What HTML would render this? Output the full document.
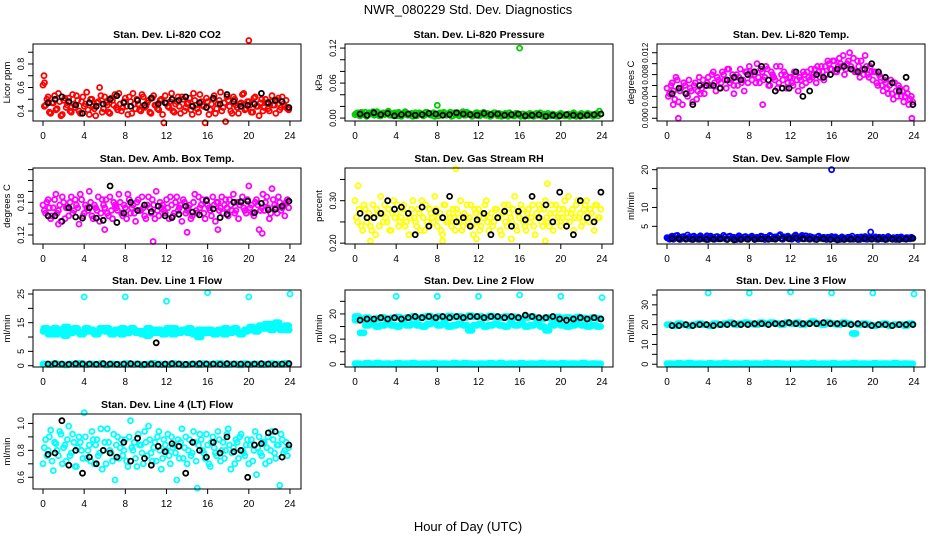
<!DOCTYPE html>
<html><head><meta charset="utf-8"><style>
body{margin:0;background:#fff;}
svg{display:block;font-family:"Liberation Sans",Arial,sans-serif;}
</style></head><body>
<svg id="chart" width="936" height="540" viewBox="0 0 936 540" xmlns="http://www.w3.org/2000/svg">
<rect x="0" y="0" width="936" height="540" fill="#fff"/>
<text x="468" y="14" text-anchor="middle" font-size="13">NWR_080229  Std. Dev. Diagnostics</text>
<text x="468" y="531" text-anchor="middle" font-size="13">Hour of Day (UTC)</text>
</svg>
<script>
const co2Red=[0.62,0.45,0.52,0.38,0.47,0.41,0.55,0.36,0.49,0.43,0.51,0.39,0.46,0.53,0.40,0.48,0.44,0.56,0.37,0.50,0.42,0.47,0.60,0.39,0.52,0.45,0.38,0.49,0.54,0.41,0.46,0.43,0.51,0.37,0.48,0.55,0.42,0.46,0.40,0.52,0.44,0.49,0.38,0.53,0.45,0.41,0.50,0.30,0.47,0.43,0.55,0.39,0.48,0.44,0.52,0.40,0.46,0.51,0.37,0.49,0.42,0.54,0.45,0.30,0.48,0.41,0.50,0.38,0.46,0.56,0.43,0.31,0.49,0.40,0.52,0.45,0.38,0.47,0.55,0.42,0.48,0.39,0.51,0.44,0.36,0.50,0.43,0.47,0.40,0.53,0.45,0.49,0.41,0.52,0.44,0.42];
const co2Red2=[0.44,0.50,0.39,0.47,0.53,0.42,0.48,0.37,0.51,0.45,0.40,0.54,0.43,0.49,0.38,0.52,0.46,0.41,0.50,0.44,0.36,0.48,0.53,0.42,0.47,0.39,0.51,0.45,0.43,0.55,0.40,0.48,0.44,0.52,0.38,0.46,0.50,0.41,0.54,0.43,0.47,0.39,0.51,0.45,0.42,0.49,0.37,0.53,0.44,0.48,0.40,0.46,0.52,0.38,0.50,0.43,0.47,0.41,0.55,0.45,0.39,0.48,0.44,0.51,0.37,0.46,0.53,0.42,0.49,0.40,0.47,0.52,0.44,0.38,0.50,0.43,0.46,0.54,0.41,0.48,0.45,0.39,0.52,0.44,0.47,0.40,0.50,0.42,0.48,0.45,0.38,0.51,0.43,0.46,0.49,0.41];
const co2Black=[0.47,0.50,0.52,0.48,0.45,0.38,0.47,0.44,0.46,0.50,0.53,0.47,0.44,0.49,0.45,0.51,0.46,0.47,0.50,0.49,0.52,0.44,0.47,0.43,0.51,0.46,0.54,0.48,0.44,0.45,0.46,0.55,0.47,0.49,0.48,0.43];
const co2OutX=[20,0.1,0.15];const co2OutY=[1.0,0.70,0.64];

const presGreen=[0.006,0.009,0.004,0.008,0.010,0.005,0.007,0.011,0.006,0.008,0.004,0.009,0.007,0.012,0.005,0.008,0.006,0.010,0.003,0.007,0.009,0.005,0.008,0.006,0.004,0.009,0.007,0.005,0.010,0.006,0.008,0.003,0.007,0.009,0.005,0.008,0.006,0.010,0.004,0.007,0.009,0.006,0.011,0.005,0.008,0.007,0.004,0.009,0.006,0.008,0.010,0.005,0.007,0.004,0.009,0.006,0.008,0.003,0.007,0.005,0.009,0.006,0.004,0.008,0.005,0.007,0.003,0.006,0.008,0.004,0.007,0.005,0.009,0.003,0.006,0.008,0.004,0.007,0.005,0.003,0.008,0.006,0.004,0.007,0.005,0.009,0.003,0.006,0.008,0.004,0.007,0.005,0.006,0.004,0.008,0.012];
const presGreen2=[0.008,0.005,0.010,0.006,0.003,0.009,0.007,0.005,0.011,0.004,0.008,0.006,0.010,0.005,0.007,0.009,0.004,0.008,0.006,0.011,0.005,0.007,0.003,0.009,0.006,0.008,0.004,0.010,0.007,0.005,0.009,0.006,0.004,0.008,0.010,0.005,0.007,0.003,0.009,0.006,0.004,0.008,0.005,0.010,0.007,0.003,0.006,0.009,0.004,0.007,0.005,0.008,0.003,0.006,0.009,0.004,0.007,0.005,0.008,0.003,0.006,0.004,0.008,0.005,0.003,0.007,0.005,0.004,0.006,0.003,0.008,0.005,0.004,0.007,0.003,0.005,0.006,0.004,0.003,0.007,0.005,0.004,0.006,0.003,0.007,0.004,0.005,0.003,0.006,0.004,0.008,0.005,0.003,0.006,0.004,0.007];
const presBlack=[0.007,0.005,0.009,0.006,0.008,0.004,0.006,0.007,0.005,0.006,0.008,0.007,0.005,0.006,0.009,0.007,0.006,0.005,0.008,0.006,0.007,0.005,0.006,0.007,0.004,0.005,0.006,0.003,0.005,0.004,0.006,0.005,0.004,0.005,0.006,0.007];
const presOutX=[16,8];const presOutY=[0.12,0.022];

const tempMag=[0.0055,0.0045,0.0065,0.0035,0.007,0.005,0.0025,0.006,0.004,0.0055,0.003,0.0065,0.005,0.0045,0.007,0.006,0.0075,0.006,0.0085,0.005,0.007,0.0065,0.008,0.0055,0.009,0.007,0.006,0.008,0.0075,0.0065,0.005,0.0085,0.0095,0.007,0.008,0.010,0.0065,0.0085,0.0075,0.009,0.006,0.008,0.007,0.0055,0.0095,0.007,0.008,0.0065,0.0075,0.006,0.008,0.005,0.007,0.0085,0.0065,0.0075,0.009,0.008,0.0065,0.0085,0.0095,0.007,0.008,0.010,0.009,0.0105,0.0085,0.011,0.0095,0.008,0.010,0.012,0.009,0.0085,0.0105,0.0075,0.009,0.0115,0.008,0.0095,0.007,0.0085,0.006,0.0075,0.005,0.0065,0.0045,0.007,0.0035,0.005,0.006,0.004,0.003,0.0055,0.0025,0.004];
const tempMag2=[0.004,0.006,0.005,0.0075,0.003,0.0055,0.0065,0.0045,0.007,0.005,0.006,0.0035,0.0075,0.0055,0.0045,0.0065,0.006,0.008,0.0065,0.0075,0.0055,0.0085,0.007,0.009,0.0065,0.008,0.0075,0.006,0.009,0.007,0.0085,0.0065,0.008,0.0085,0.0065,0.0075,0.009,0.007,0.0095,0.006,0.0085,0.0075,0.0095,0.0065,0.008,0.0085,0.0055,0.0075,0.0065,0.0085,0.007,0.0075,0.006,0.008,0.0085,0.007,0.0075,0.009,0.0095,0.0075,0.0085,0.0095,0.0105,0.009,0.0105,0.0085,0.0095,0.0100,0.0115,0.009,0.0105,0.0095,0.011,0.0085,0.0095,0.0105,0.008,0.0095,0.0075,0.0085,0.0085,0.0065,0.008,0.006,0.007,0.0055,0.006,0.0045,0.0065,0.004,0.0055,0.005,0.004,0.0045,0.0035,0.003];
const tempBlack=[0.0045,0.0055,0.0045,0.0025,0.006,0.006,0.006,0.0055,0.007,0.0075,0.007,0.008,0.0085,0.0095,0.007,0.005,0.0055,0.0055,0.0085,0.004,0.005,0.008,0.0075,0.008,0.009,0.0095,0.009,0.0085,0.009,0.010,0.0085,0.0075,0.0065,0.005,0.0075,0.0025];
const tempOutX=[1.1,23.8,0.6,9.3,6.5];const tempOutY=[0.0,0.0,0.0025,0.0025,0.0045];

const ambMag=[0.175,0.160,0.185,0.150,0.170,0.195,0.165,0.145,0.180,0.170,0.155,0.190,0.165,0.175,0.140,0.185,0.160,0.170,0.200,0.155,0.175,0.165,0.145,0.185,0.170,0.160,0.190,0.150,0.175,0.165,0.180,0.155,0.170,0.195,0.160,0.175,0.145,0.185,0.165,0.170,0.150,0.190,0.160,0.175,0.200,0.155,0.170,0.165,0.185,0.150,0.175,0.160,0.190,0.170,0.145,0.180,0.165,0.175,0.155,0.195,0.160,0.170,0.185,0.150,0.175,0.165,0.190,0.145,0.180,0.170,0.160,0.185,0.155,0.175,0.195,0.165,0.150,0.180,0.170,0.160,0.210,0.175,0.155,0.185,0.130,0.170,0.165,0.190,0.150,0.205,0.175,0.160,0.180,0.170,0.155,0.185];
const ambMag2=[0.165,0.180,0.170,0.155,0.185,0.160,0.175,0.190,0.150,0.170,0.180,0.160,0.185,0.170,0.195,0.155,0.175,0.165,0.180,0.150,0.170,0.190,0.160,0.175,0.185,0.155,0.165,0.180,0.170,0.195,0.160,0.175,0.150,0.185,0.170,0.160,0.180,0.165,0.190,0.155,0.175,0.170,0.185,0.150,0.165,0.180,0.175,0.160,0.170,0.190,0.155,0.180,0.165,0.175,0.185,0.160,0.170,0.150,0.180,0.165,0.190,0.175,0.160,0.185,0.170,0.155,0.175,0.180,0.165,0.190,0.175,0.170,0.185,0.165,0.160,0.180,0.175,0.190,0.165,0.185,0.170,0.160,0.180,0.175,0.165,0.195,0.180,0.170,0.160,0.185,0.170,0.190,0.165,0.175,0.180,0.170];
const ambBlack=[0.155,0.155,0.145,0.170,0.153,0.151,0.170,0.151,0.147,0.210,0.143,0.160,0.180,0.165,0.175,0.163,0.173,0.155,0.152,0.158,0.173,0.162,0.157,0.183,0.168,0.152,0.158,0.180,0.181,0.182,0.161,0.178,0.166,0.167,0.173,0.182];
const ambOutX=[10.7,14,21.3,6,1.5,17];const ambOutY=[0.108,0.125,0.123,0.13,0.14,0.13];

const rhYellow=[0.30,0.25,0.27,0.23,0.28,0.26,0.24,0.29,0.22,0.27,0.31,0.25,0.26,0.28,0.23,0.30,0.27,0.24,0.26,0.29,0.25,0.22,0.28,0.26,0.24,0.27,0.30,0.23,0.25,0.28,0.26,0.31,0.24,0.27,0.22,0.29,0.25,0.26,0.28,0.23,0.27,0.30,0.24,0.26,0.25,0.29,0.22,0.27,0.28,0.24,0.26,0.30,0.23,0.27,0.25,0.28,0.26,0.22,0.29,0.24,0.27,0.25,0.31,0.23,0.26,0.28,0.24,0.27,0.25,0.29,0.22,0.26,0.28,0.24,0.30,0.25,0.27,0.23,0.29,0.26,0.24,0.28,0.25,0.31,0.27,0.23,0.29,0.26,0.24,0.28,0.30,0.25,0.27,0.23,0.29,0.26];
const rhYellow2=[0.26,0.28,0.24,0.29,0.25,0.27,0.23,0.26,0.28,0.24,0.27,0.29,0.25,0.23,0.27,0.26,0.29,0.25,0.28,0.24,0.27,0.26,0.30,0.25,0.28,0.23,0.26,0.29,0.24,0.27,0.25,0.28,0.26,0.23,0.29,0.25,0.27,0.24,0.26,0.28,0.25,0.23,0.27,0.29,0.26,0.24,0.28,0.25,0.23,0.27,0.29,0.25,0.26,0.24,0.28,0.26,0.23,0.27,0.25,0.29,0.26,0.28,0.24,0.27,0.29,0.25,0.23,0.28,0.26,0.24,0.27,0.29,0.25,0.28,0.26,0.24,0.29,0.27,0.25,0.28,0.26,0.30,0.27,0.25,0.28,0.26,0.30,0.27,0.25,0.29,0.27,0.28,0.25,0.29,0.26,0.28];
const rhBlack=[0.27,0.26,0.26,0.27,0.30,0.28,0.285,0.27,0.22,0.285,0.24,0.275,0.26,0.31,0.25,0.26,0.24,0.255,0.27,0.22,0.26,0.275,0.24,0.275,0.255,0.31,0.26,0.29,0.25,0.32,0.24,0.22,0.30,0.26,0.25,0.32];
const rhOutX=[9.8,8.5,1.5,18.5,0.3,18.7,11.8,15.2];const rhOutY=[0.375,0.205,0.205,0.205,0.335,0.34,0.21,0.21];

const flowBlue=[2.0,1.6,2.4,1.8,2.6,1.5,2.2,1.9,2.7,1.7,2.3,2.0,1.6,2.5,1.8,2.1,1.5,2.4,1.9,2.2,1.7,2.0,2.6,1.6,2.3,1.8,2.1,1.5,2.5,1.9,2.2,1.7,2.0,2.4,1.6,2.1,1.8,2.3,1.5,2.0,2.6,1.7,2.2,1.9,2.8,1.6,2.1,2.4,1.8,2.0,2.7,1.5,2.3,1.9,2.5,1.7,2.2,2.0,1.6,2.4,1.8,2.1,1.5,2.0,2.3,1.7,1.9,1.5,2.2,1.8,2.0,1.6,2.4,1.7,2.1,1.5,1.9,2.3,1.6,2.0,1.8,2.2,1.5,1.9,2.1,1.6,2.3,1.8,2.0,1.5,1.9,2.2,1.7,2.0,1.8,2.1];
const flowBlue2=[1.8,2.2,1.6,2.5,2.0,1.7,2.3,1.9,2.1,1.6,2.4,1.8,2.2,2.0,1.7,2.5,1.9,2.1,1.6,2.3,2.0,1.8,2.2,1.7,2.4,1.9,1.6,2.1,2.0,1.8,2.3,1.6,2.2,1.9,2.0,1.7,2.4,1.8,2.1,1.6,2.3,2.0,1.8,2.5,1.7,2.2,1.9,2.0,1.6,2.4,1.8,2.1,2.6,1.7,2.0,2.3,1.9,1.6,2.2,1.8,2.0,1.7,2.1,1.6,1.9,2.2,1.8,1.6,2.0,1.7,2.1,1.9,1.6,2.0,1.8,2.2,1.7,1.6,2.0,1.8,1.9,1.6,2.1,1.7,1.9,1.6,2.0,1.8,1.7,2.1,1.6,1.9,1.8,2.0,1.7,1.9];
const flowBlack=[1.8,1.7,1.6,1.5,1.6,1.5,1.6,1.7,1.5,1.4,1.5,1.6,1.5,1.7,1.6,1.6,1.8,1.7,1.9,1.7,1.6,1.5,1.7,1.5,1.4,1.5,1.6,1.5,1.8,1.6,1.7,1.5,1.6,1.5,1.6,1.8];
const flowOutX=[16,19.8];const flowOutY=[20,3.5];

const l1Upper=[12,11,13,12.5,10.5,12,13,11.5,12,12.5,11,13,12,11.5,12.5,11,12,13,11.5,12,10.5,12.5,11.5,12,13,11,12,12.5,11.5,12,10,12.5,11.5,12,12.5,11,12,13,11.5,12,12.5,13,14,13,14.5,13.5,12.5,14];
const l1Upper2=[13,12.5,11,12,13.5,11.5,12,11,13,12,11.5,12.5,13,11,12,13,11.5,12.5,12,11,13,11.5,12.5,11,12,13,11.5,12,13,11,12.5,11.5,12.5,11,12,13,11.5,12,11,12.5,13.5,12,13,14.5,12.5,15,13.5,12.5];
const l1Lower=[0.6,0.4,0.7,0.5,0.3,0.6,0.5,0.8,0.4,0.6,0.5,0.7,0.3,0.6,0.5,0.4,0.7,0.5,0.6,0.3,0.5,0.8,0.6,0.4,0.5,0.7,0.6,0.3,0.5,0.6,0.4,0.7,0.5,0.6,0.8,0.4,0.5,0.6,0.3,0.7,0.5,0.6,0.4,0.5,0.7,0.6,0.5,0.8];
const l1Black=[0.6,0.7,0.6,0.5,0.7,0.6,0.6,0.5,0.7,0.6,0.5,0.6,0.7,0.6,0.5,0.6,0.5,0.6,0.7,0.6,0.5,0.6,0.7,0.6,0.6,0.5,0.7,0.6,0.6,0.5,0.6,0.7,0.6,0.5,0.6,0.7];
const l1OutX=[4,8,12,16,20,24];const l1OutY=[24,24,22.5,25.5,24,25];
const l1BOutX=[11];const l1BOutY=[8];

const l2Main=[19,12.5,15.5,16,15,15.5,16,15.5,15,16,15.5,16,15.5,15,16,16.5,15.5,16,15,15.5,16,15.5,13.5,15.5,16,15,15.5,16,15.5,15,16,15.5,16,15,15.5,16,15,13.5,15.5,16,15.5,15,15.5,16,15.5,15,15.5,15];
const l2Upper=[17.5,18,18.5,17.8,18.2,18.6,18,18.4,18.8,18.2,18.6,19,18.4,18.8,19.2,18.6,19,18.5,19.2,18.8,19,18.6,19.3,18.9,19,18.5,19.2,18.8,18.6,19,18.4,18.8,18.2,18.6,18.9,18.4,18,18.6,18.2,18.8,18.4,18.6,18.2,18.8,18.4,18,18.5,18.2];
const l2Zero=[0.3,0.1,0.4,0.2,0.5,0.2,0.3,0.1,0.4,0.2,0.3,0.5,0.1,0.3,0.2,0.4,0.2,0.3,0.1,0.5,0.2,0.4,0.3,0.1,0.3,0.2,0.4,0.2,0.5,0.1,0.3,0.2,0.4,0.1,0.3,0.2,0.5,0.2,0.3,0.1,0.4,0.2,0.3,0.2,0.5,0.1,0.3,0.2];
const l2Black=[17.5,18,18,18.5,18,18.5,18,18.5,19,18.5,19,18.5,19,18.5,19,18.5,19,19,18.5,19,19,18.5,19,18.5,19.5,19,18.5,18.5,19,18,17.5,18,18.5,18,18.5,18];
const l2OutX=[4,8,12,16,20,24];const l2OutY=[27,27,27,27.5,27,26.5];

const l3Main=[20,19.5,20.5,20,19.5,20,20.5,20,19.5,20.5,20,20.5,21,20,20.5,21,20.5,20,21,20.5,21,20.5,20,21,20.5,21,20,20.5,21.5,20.5,20,21,20.5,20,21,20.5,15.5,20,20.5,20,19.5,20,20.5,19.5,20,20,19.5,20.5];
const l3Zero=[0.3,0.1,0.4,0.2,0.5,0.2,0.3,0.1,0.4,0.2,0.3,0.5,0.1,0.3,0.2,0.4,0.2,0.3,0.1,0.5,0.2,0.4,0.3,0.1,0.3,0.2,0.4,0.2,0.5,0.1,0.3,0.2,0.4,0.1,0.3,0.2,0.5,0.2,0.3,0.1,0.4,0.2,0.3,0.2,0.5,0.1,0.3,0.2];
const l3Black=[19.5,19.5,20,19.5,20,20,19.5,20,20,20.5,20,20,20.5,20.5,20,20.5,20.5,21,20.5,20.5,20.5,20.5,21,20.5,20.5,20.5,20,20.5,20,19.5,20,20,19.5,20,20,20];
const l3OutX=[4,8,12,16,20,24];const l3OutY=[36,36,36.5,36,36,35.5];

const l4Cyan=[0.70,0.88,0.80,0.95,0.65,0.85,0.76,0.92,0.82,0.72,0.98,0.78,0.86,0.68,0.90,0.80,1.08,0.74,0.84,0.94,0.70,0.88,0.78,0.66,0.86,0.96,0.80,0.72,0.58,0.90,0.82,0.76,0.88,0.68,1.02,0.80,0.74,0.92,0.84,0.70,0.86,0.98,0.78,0.82,0.72,0.94,0.66,0.88,0.80,0.76,0.90,0.84,0.58,0.74,0.96,0.82,0.70,0.88,0.78,0.86,0.52,0.92,0.80,0.74,0.84,0.68,0.90,0.78,0.94,0.72,0.86,0.80,0.96,0.66,0.82,0.88,0.74,0.92,0.78,0.84,0.70,0.88,0.80,0.62,0.90,0.76,0.86,0.82,0.72,0.94,0.78,0.84,0.54,0.88,0.80,0.76];
const l4Cyan2=[0.82,0.76,0.90,0.72,0.86,0.80,0.94,0.70,0.84,0.88,0.76,0.92,0.68,0.82,0.86,0.74,0.90,0.80,0.72,0.88,0.84,0.76,0.96,0.80,0.70,0.86,0.78,0.92,0.84,0.74,0.88,0.80,0.72,0.90,0.82,0.86,0.68,0.84,0.78,0.94,0.76,0.88,0.72,0.86,0.90,0.80,0.74,0.84,0.92,0.70,0.82,0.78,0.88,0.86,0.74,0.90,0.80,0.76,0.94,0.72,0.84,0.88,0.78,0.92,0.70,0.86,0.82,0.76,0.88,0.80,0.74,0.92,0.84,0.78,0.70,0.86,0.90,0.80,0.76,0.88,0.84,0.72,0.94,0.82,0.78,0.86,0.70,0.90,0.80,0.88,0.74,0.84,0.92,0.78,0.86,0.82];
const l4Black=[0.77,0.78,1.02,0.69,0.80,0.63,0.75,0.70,0.80,0.78,0.75,0.86,0.72,0.89,0.74,0.69,0.83,0.79,0.85,0.83,0.63,0.86,0.80,0.75,0.86,0.78,0.90,0.79,0.80,0.60,0.84,0.85,0.93,0.94,0.75,0.84];

const xTicks=[0,4,8,12,16,20,24];

const NS="http://www.w3.org/2000/svg";
const svg=document.getElementById('chart');
const rowTop=[44,168,290,414], rowBot=[121,244,367,489];
function el(tag,attrs,parent){const e=document.createElementNS(NS,tag);for(const k in attrs)e.setAttribute(k,attrs[k]);(parent||svg).appendChild(e);return e;}

const panels=[
 {id:'co2',col:0,row:0,title:'Stan. Dev. Li-820 CO2',ylab:'Licor ppm',ylim:[0.315,0.97],ticks:[0.4,0.5,0.6,0.7,0.8,0.9],labels:['0.4','0.6','0.8'],
  series:[[co2Red,'q','#ff0000'],[co2Red2,'q2','#ff0000'],[co2Black,'b','#000']],out:[[co2OutX,co2OutY,'#ff0000']]},
 {id:'pressure',col:1,row:0,title:'Stan. Dev. Li-820 Pressure',ylab:'kPa',ylim:[-0.005,0.127],ticks:[0,0.02,0.04,0.06,0.08,0.10,0.12],labels:['0.00','0.06','0.12'],
  series:[[presGreen,'q','#00cc00'],[presGreen2,'q2','#00cc00'],[presBlack,'b','#000']],out:[[presOutX,presOutY,'#00cc00']]},
 {id:'temp',col:2,row:0,title:'Stan. Dev. Li-820 Temp.',ylab:'degrees C',ylim:[-0.0005,0.0136],ticks:[0,0.002,0.004,0.006,0.008,0.010,0.012],labels:['0.000','0.004','0.008','0.012'],lfs:8,
  series:[[tempMag,'q','#ff00ff'],[tempMag2,'q2','#ff00ff'],[tempBlack,'b','#000']],out:[[tempOutX,tempOutY,'#ff00ff']]},
 {id:'ambbox',col:0,row:1,title:'Stan. Dev. Amb. Box Temp.',ylab:'degrees C',ylim:[0.1035,0.243],ticks:[0.12,0.14,0.16,0.18,0.20,0.22,0.24],labels:['0.12','0.18'],
  series:[[ambMag,'q','#ff00ff'],[ambMag2,'q2','#ff00ff'],[ambBlack,'b','#000']],out:[[ambOutX,ambOutY,'#ff00ff']]},
 {id:'rh',col:1,row:1,title:'Stan. Dev. Gas Stream RH',ylab:'percent',ylim:[0.198,0.377],ticks:[0.20,0.25,0.30,0.35],labels:['0.20','0.30'],
  series:[[rhYellow,'q','#ffff00'],[rhYellow2,'q2','#ffff00'],[rhBlack,'b','#000']],out:[[rhOutX,rhOutY,'#ffff00']]},
 {id:'sampleflow',col:2,row:1,title:'Stan. Dev. Sample Flow',ylab:'ml/min',ylim:[0.32,20.45],ticks:[5,10,15,20],labels:['5','10','20'],
  series:[[flowBlue,'q','#0000ff'],[flowBlue2,'q2','#0000ff'],[flowBlack,'b','#000']],out:[[flowOutX,flowOutY,'#0000ff']]},
 {id:'line1',col:0,row:2,title:'Stan. Dev. Line 1 Flow',ylab:'ml/min',ylim:[-0.45,26.4],ticks:[0,5,10,15,20,25],labels:['0','5','15','25'],
  series:[[l1Upper,'h','#00ffff'],[l1Upper2,'h2','#00ffff'],[l1Lower,'h','#00ffff'],[l1Black,'b','#000']],out:[[l1OutX,l1OutY,'#00ffff'],[l1BOutX,l1BOutY,'#000']]},
 {id:'line2',col:1,row:2,title:'Stan. Dev. Line 2 Flow',ylab:'ml/min',ylim:[-1.06,29.5],ticks:[0,5,10,15,20,25],labels:['0','10','20'],
  series:[[l2Main,'h','#00ffff'],[l2Upper,'h','#00ffff'],[l2Zero,'h','#00ffff'],[l2Black,'b','#000']],out:[[l2OutX,l2OutY,'#00ffff']]},
 {id:'line3',col:2,row:2,title:'Stan. Dev. Line 3 Flow',ylab:'ml/min',ylim:[-1.4,37.5],ticks:[0,5,10,15,20,25,30,35],labels:['0','10','20','30'],
  series:[[l3Main,'h','#00ffff'],[l3Zero,'h','#00ffff'],[l3Black,'b','#000']],out:[[l3OutX,l3OutY,'#00ffff']]},
 {id:'line4',col:0,row:3,title:'Stan. Dev. Line 4 (LT) Flow',ylab:'ml/min',ylim:[0.513,1.07],ticks:[0.6,0.7,0.8,0.9,1.0],labels:['0.6','0.8','1.0'],
  series:[[l4Cyan,'q','#00ffff'],[l4Cyan2,'q2','#00ffff'],[l4Black,'b','#000']],out:[]}
];

panels.forEach(p=>{
  const bx=33+p.col*312, bw=268, top=rowTop[p.row], bot=rowBot[p.row];
  const xs=v=>43+p.col*312+v*10.29;
  const ys=v=>bot-(v-p.ylim[0])/(p.ylim[1]-p.ylim[0])*(bot-top);
  const g=el('g',{});
  
  
  const t=el('text',{x:bx+bw/2,y:top-6,'text-anchor':'middle','font-size':'10.5','font-weight':'bold'},g);
  t.textContent=p.title;
  
  
  const pts=el('g',{fill:'none','stroke-width':'1.8'},g);
  
  
  function dot(hr,v,col,nm){
    const c=el('circle',{cx:xs(hr).toFixed(1),cy:ys(v).toFixed(1),r:'2.5',stroke:col},pts);
    
    
  }
  p.series.forEach(s=>{
    const vals=s[0],mode=s[1],col=s[2];
    vals.forEach((v,i)=>{
      if(mode==='b'){dot(0.5+i*23.4/(vals.length-1),v,col,p.id+'-point');return;}
      const step=24/vals.length;
      if(mode==='q'){dot(i*step,v,col,p.id+'-point');return;}
      if(mode==='q2'){dot(i*step+step/2,v,col,p.id+'-point');return;}
      const off=mode==='h2'?step/8:0;
      for(let k=0;k<4;k++) dot(i*step+k*step/4+off,v,col,p.id+'-point');
    });
  });
  p.out.forEach(o=>{
    o[0].forEach((x,i)=>dot(x,o[1][i],o[2],p.id+'-outlier'));
  });
  const box=el('rect',{x:bx,y:top,width:bw,height:bot-top,fill:'none',stroke:'#000','stroke-width':'1'},g);
  
  
  const xa=el('g',{},g);
  
  
  xTicks.forEach(v=>{
    el('line',{x1:xs(v),x2:xs(v),y1:bot,y2:bot+5,stroke:'#000'},xa);
    const tl=el('text',{x:xs(v),y:bot+18,'text-anchor':'middle','font-size':'10'},xa);
    tl.textContent=v;
  });
  const ya=el('g',{},g);
  
  
  p.ticks.forEach(v=>{
    const y=ys(v);
    el('line',{x1:bx-5,x2:bx,y1:y,y2:y,stroke:'#000'},ya);
    const lab=p.labels.find(l=>Math.abs(parseFloat(l)-v)<1e-9);
    if(lab!==undefined){
      const tl=el('text',{x:bx-9,y:y,'text-anchor':'middle','font-size':String(p.lfs||9),transform:`rotate(-90 ${bx-9} ${y})`},ya);
      tl.textContent=lab;
    }
  });
  const yl=el('text',{x:bx-23,y:(top+bot)/2,'text-anchor':'middle','font-size':'9.5',transform:`rotate(-90 ${bx-23} ${(top+bot)/2})`},g);
  yl.textContent=p.ylab;
  
  
});
</script>
</body></html>
